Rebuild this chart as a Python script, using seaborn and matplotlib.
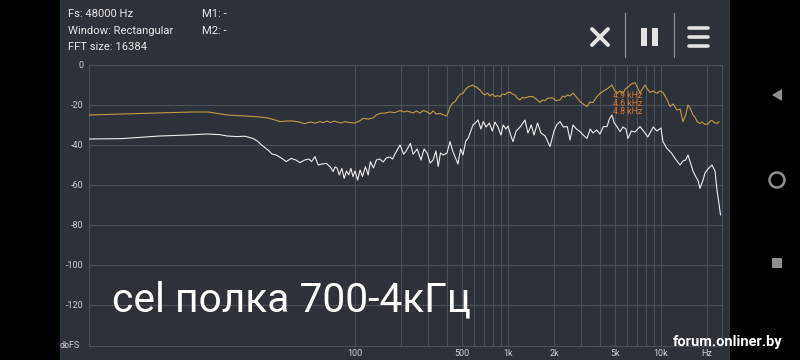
import numpy as np
import pandas as pd
import matplotlib
matplotlib.use("Agg")
import matplotlib.pyplot as plt
from matplotlib.patches import Rectangle, Ellipse, Polygon
from matplotlib.lines import Line2D
import seaborn as sns

# ---------------- data ----------------
orange_freq = [1.83, 3, 5, 8.7, 11, 14.6, 19, 24, 27, 30, 32.4, 36, 39.3, 43, 47, 51, 55, 59, 62, 66,
               69, 73, 76, 81, 86, 92, 100, 107, 113, 122, 131, 138, 146, 157, 169, 183, 197, 210, 219, 239,
               252, 266, 280, 296, 310, 324, 340, 359, 380, 399, 418, 435, 451, 470, 490, 508, 530, 548, 570, 590,
               608, 620, 637, 656, 680, 707, 735, 762, 790, 822, 855, 887, 920, 955, 990, 1031, 1070, 1111, 1150, 1197,
               1240, 1291, 1370, 1457, 1530, 1618, 1680, 1746, 1810, 1882, 1969, 2050, 2188, 2280, 2360, 2450, 2544, 2661, 2800, 2956,
               3100, 3283, 3430, 3594, 3800, 3993, 4200, 4436, 4784, 4950, 5157, 5400, 5646, 5850, 6087, 6400, 6762, 7000, 7290, 7560,
               7860, 8150, 8473, 8900, 9413, 9800, 10305, 10900, 11455, 12000, 12730, 13320, 13930, 14500, 15010, 15600, 16180, 16670, 17300, 17980,
               18500, 19400, 20290, 21000, 21540, 22550, 23230, 24000]
orange_db = [-25, -24.5, -24, -23.5, -23.5, -25, -25.5, -26, -26.5, -27.5, -28.3, -28, -28, -28.5, -29.3, -28.5, -29, -28.3, -28.8, -28,
             -28.8, -28, -28.5, -29, -28.3, -28.8, -29, -28, -26.7, -27, -26.5, -25, -24.2, -24, -23.5, -23.8, -22.8, -23.5, -23, -24,
             -23, -24, -22.8, -23.4, -24.5, -23, -24.5, -24.2, -25, -25.5, -21, -19, -18.3, -16, -14.5, -14.2, -12, -11, -10.5, -10,
             -11, -10.8, -11.7, -12.5, -14, -15, -14, -15.5, -14.5, -15.8, -15.3, -15.8, -14.5, -14.8, -13.8, -13.6, -14.5, -15, -16.5, -17.5,
             -16.2, -16.5, -15.8, -15.8, -17, -18.7, -17.5, -17.8, -16.7, -16.5, -16.5, -17.8, -17.5, -15.5, -16, -15, -15.5, -14, -16, -18.3,
             -19.5, -20.8, -18.5, -18.8, -16, -14.2, -13, -12, -10, -12.5, -14.2, -13, -14.2, -12, -11, -9.5, -8.8, -11, -14, -12,
             -10, -12, -13.7, -13, -14.2, -13, -13.7, -17, -20.8, -19.5, -22.5, -22, -28.3, -25, -20, -22, -25, -26, -28.5, -29.2,
             -28.5, -29.7, -29.5, -28, -27.8, -29, -29.2, -28.3]

white_freq = [1.83, 3, 5.3, 8, 10.8, 13, 14.6, 17, 19, 21.5, 23, 24.5, 27, 28.7, 30.5, 33, 35.5, 38.3, 41, 43.6,
              47, 50, 52, 54.8, 57.5, 61, 65, 69, 72, 74, 76.3, 79, 82, 85, 88, 91, 94, 97, 100, 104,
              108, 112, 117, 122, 126, 132, 138, 145, 153, 160, 169, 176, 184, 197, 208, 216, 230, 240, 255, 270,
              283, 296, 310, 324, 338, 350, 362, 378, 399, 418, 435, 451, 471, 490, 508, 530, 548, 570, 590, 608,
              637, 665, 690, 720, 755, 790, 822, 860, 900, 930, 970, 1000, 1040, 1079, 1130, 1200, 1291, 1350, 1420, 1480,
              1560, 1640, 1750, 1882, 2000, 2080, 2188, 2300, 2440, 2544, 2661, 2800, 2956, 3100, 3283, 3450, 3594, 3800, 3993, 4200,
              4436, 4600, 4784, 4950, 5157, 5400, 5646, 5900, 6087, 6400, 6762, 7290, 7860, 8200, 8473, 8900, 9413, 10000, 10300, 10941,
              11700, 12350, 13320, 13930, 14500, 15010, 15600, 16180, 16670, 17500, 17980, 18830, 19400, 20290, 21540, 22550, 23230, 23800, 24500]
white_db = [-37, -36.8, -35.5, -35, -34.5, -34.8, -35.5, -35.8, -35.6, -36.7, -38, -40, -42.5, -44.5, -45, -46.5, -48.3, -46.7, -47.5, -48.8,
            -47.5, -47, -48.3, -45.8, -50, -49.5, -49.2, -51, -53.3, -51, -51.5, -55, -51.7, -56.7, -53, -55, -51.7, -55.8, -53, -57.5,
            -52.5, -55.8, -50.8, -55, -48.3, -51.5, -47.5, -47, -48.5, -46.5, -46, -47, -44, -40, -44.6, -43, -39.2, -44.6, -42, -47.5,
            -42, -44, -49, -47.5, -43, -50.8, -44, -45, -44, -38.3, -43, -46, -49.5, -42, -45, -38, -36.7, -33.3, -30, -29.2,
            -27.5, -32, -28.3, -31, -29, -33, -28.5, -31, -35, -30, -32, -30.5, -35, -38.3, -33, -31, -27.5, -34, -30, -35,
            -29, -34, -35.5, -40.8, -33, -30, -28.3, -31, -30.8, -37.5, -30, -32, -33.3, -35, -36.7, -32, -34, -32.5, -34.5, -30.8,
            -30.8, -27, -25, -29, -30.8, -33.3, -31, -32, -36.7, -33, -33.5, -30.8, -34, -36, -34, -31, -33, -31.5, -38.3, -41.7,
            -44, -46.7, -50, -48, -47.5, -45, -49, -53, -55, -58, -61.7, -57.5, -54, -52, -50, -53, -62.5, -68, -75]

y_ticks = [0, -20, -40, -60, -80, -100, -120]
y_tick_labels = ["0", "-20", "-40", "-60", "-80", "-100", "-120"]
x_major = [100, 500, 1000, 2000, 5000, 10000, 20000]
x_major_labels = ["100", "500", "1k", "2k", "5k", "10k", "Hz"]
x_minor = [200, 300, 400, 600, 700, 800, 900, 3000, 4000, 6000, 7000, 8000, 9000]

header_left = ["Fs: 48000 Hz", "Window: Rectangular", "FFT size: 16384"]
header_mid = ["M1: -", "M2: -"]
peak_labels = ["4.9 kHz", "4.6 kHz", "4.8 kHz"]
title_text = "cel полка 700-4кГц"
watermark = "forum.onliner.by"

# ---------------- styling ----------------
sns.set_theme(style="dark")
plt.rcParams["font.family"] = ["Roboto", "DejaVu Sans"]

W, H = 800, 360
PANEL = "#2d323a"
GRID = "#4b5058"
TXT = "#cfd0d2"

fig = plt.figure(figsize=(8, 3.6), dpi=100, facecolor="black")
fig.patches.append(Rectangle((60 / W, 0), 670 / W, 1, transform=fig.transFigure,
                             facecolor=PANEL, edgecolor="none", zorder=-5))

def fx(px):
    return px / W

def fy(py):
    return 1 - py / H

ax = fig.add_axes([fx(89), fy(346), (722 - 89) / W, (346 - 65) / H])
ax.set_zorder(1)
ax.set_facecolor(PANEL)

df_o = pd.DataFrame({"freq": orange_freq, "db": orange_db})
df_w = pd.DataFrame({"freq": white_freq, "db": white_db})
sns.lineplot(data=df_o, x="freq", y="db", ax=ax, color="#c29c42", lw=0.8, estimator=None, sort=False, zorder=3)
sns.lineplot(data=df_w, x="freq", y="db", ax=ax, color="#ececec", lw=0.8, estimator=None, sort=False, zorder=4)

ax.set_xscale("log")
ax.set_xlim(1.826, 25050)
ax.set_ylim(-140.5, 0)

ax.set_xticks(x_major)
ax.set_xticklabels(x_major_labels)
ax.set_xticks(x_minor, minor=True)
ax.set_xticklabels([], minor=True)
ax.set_yticks(y_ticks)
ax.set_yticklabels(y_tick_labels)
ax.tick_params(axis="both", which="both", length=0, colors=TXT, labelsize=6.5)
ax.tick_params(axis="y", pad=4)
ax.tick_params(axis="x", pad=2)
ax.grid(True, which="both", axis="x", color=GRID, lw=0.8)
ax.grid(True, which="major", axis="y", color=GRID, lw=0.8)
for s in ax.spines.values():
    s.set_color(GRID)
    s.set_linewidth(0.8)
ax.set_xlabel("")
ax.set_ylabel("")

# dbFS label
fig.text(fx(70), fy(345), "dbFS", color=TXT, fontsize=6.5, ha="center", va="center")

# header
for i, t in enumerate(header_left):
    fig.text(fx(68), fy(14 + i * 16.5), t, color="#e6e6e6", fontsize=8.1, ha="left", va="center")
for i, t in enumerate(header_mid):
    fig.text(fx(202), fy(14 + i * 16.5), t, color="#e6e6e6", fontsize=8.1, ha="left", va="center")

# header icons
icon_c = "#e2e2e2"
fig.add_artist(Line2D([fx(592), fx(608)], [fy(29), fy(45)], color=icon_c, lw=2.8, transform=fig.transFigure))
fig.add_artist(Line2D([fx(592), fx(608)], [fy(45), fy(29)], color=icon_c, lw=2.8, transform=fig.transFigure))
for xs in (625, 674):
    fig.add_artist(Line2D([fx(xs), fx(xs)], [fy(13), fy(57)], color="#8a8e94", lw=0.9, transform=fig.transFigure))
for xs in (641, 652):
    fig.patches.append(Rectangle((fx(xs), fy(46)), 6 / W, 18 / H, transform=fig.transFigure,
                                 facecolor=icon_c, edgecolor="none"))
for ys in (28, 37, 46):
    fig.add_artist(Line2D([fx(689), fx(708)], [fy(ys), fy(ys)], color=icon_c, lw=2.6, transform=fig.transFigure))

# android nav icons
nav_c = "#8f8f8f"
fig.patches.append(Polygon([[fx(772), fy(95)], [fx(782), fy(89)], [fx(782), fy(101)]], closed=True,
                           transform=fig.transFigure, facecolor=nav_c, edgecolor="none"))
fig.patches.append(Ellipse((fx(777), fy(180)), 15 / W, 15 / H, transform=fig.transFigure, facecolor="none",
                           edgecolor=nav_c, lw=1.8))
fig.patches.append(Rectangle((fx(772), fy(268)), 10 / W, 10 / H, transform=fig.transFigure,
                             facecolor=nav_c, edgecolor="none"))

# peak labels
for i, t in enumerate(peak_labels):
    fig.text(fx(628), fy(96 + i * 7.5), t, color="#d9762a", fontsize=6.3, ha="center", va="center", zorder=5)

# big title text
fig.text(fx(112), fy(300), title_text, color="white", fontsize=29.3, ha="left", va="center", zorder=5)

# watermark
fig.text(fx(782), fy(342), watermark, color="white", fontsize=10.5, fontweight="bold", ha="right", va="center", zorder=5)

fig.savefig("out.png", dpi=100, facecolor="black")
